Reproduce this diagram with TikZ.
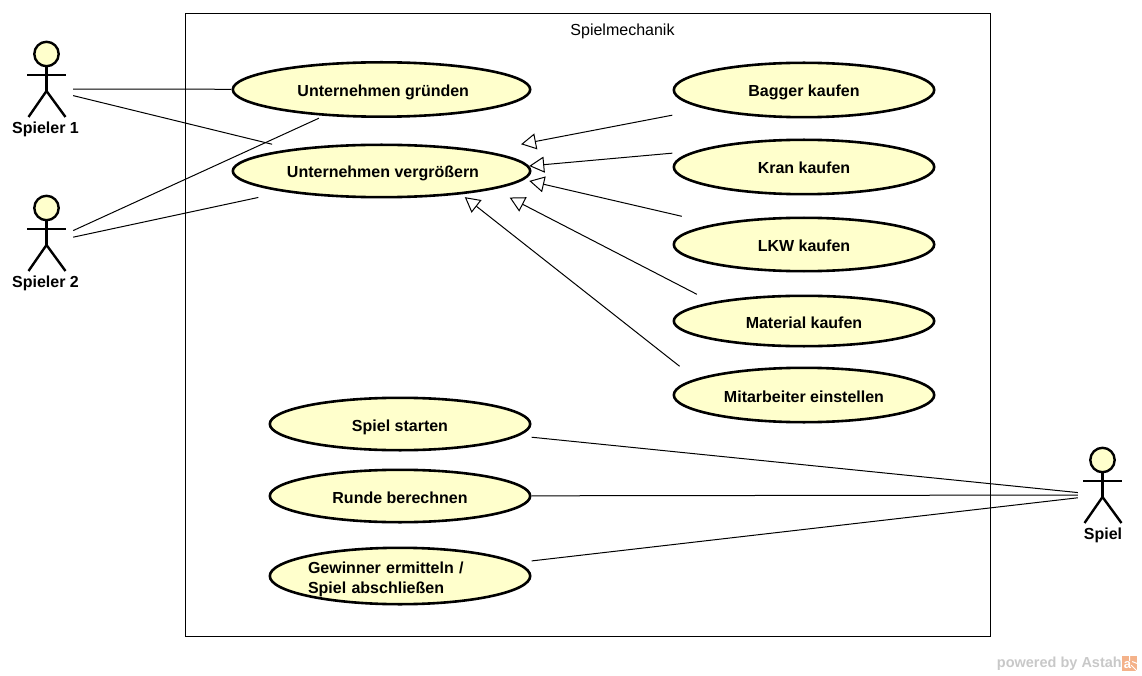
\documentclass[tikz,border=0pt]{standalone}
\usepackage{fontspec}
\setmainfont{Liberation Sans}
\usepackage{xcolor}
\usepackage{tikz}
\usetikzlibrary{arrows.meta,positioning,calc}

\definecolor{casefill}{RGB}{255,255,204}
\definecolor{markgray}{RGB}{200,200,200}
\definecolor{markorange}{RGB}{244,178,138}

\tikzset{
    usecase/.style 2 args={rectangle, inner sep=0pt, minimum width=#1, minimum height=#2,
        text height=14pt, text depth=0pt,
        font=\fontsize{16}{20}\selectfont\bfseries,
        path picture={\draw[fill=casefill,line width=2.6pt] (path picture bounding box.center)
            ellipse [x radius=#1/2-1.3pt, y radius=#2/2-1.3pt];}},
    actorbox/.style={rectangle, inner sep=0pt, minimum width=#1, minimum height=94pt},
    actorlabel/.style={inner sep=0pt, font=\fontsize{16}{20}\selectfont\bfseries},
    actorfig/.pic={
        \draw[line width=2.4pt,fill=casefill] (0,-35) circle (12.2);
        \draw[line width=2.4pt] (0,-23) -- (0,2) (-19.5,-14) -- (19.5,-14);
        \draw[line width=2.4pt] (-18,28) -- (0,2) -- (19,28);
    },
    assoc/.style={line width=1pt},
    generalize/.style={line width=1pt,shorten >=-2.5pt,-{Triangle[open,length=15pt,width=16pt,line width=1pt]}}
}

\begin{document}
\begin{tikzpicture}[x=1pt,y=-1pt]
    \useasboundingbox (0,0) rectangle (1142,676);

    % System boundary
    \node[draw,line width=1pt,rectangle,inner sep=0pt,minimum width=805pt,minimum height=623pt] (system) at (588,325) {};
    \node[font=\fontsize{16}{20}\selectfont] (systemtitle) at (622.5,31) {Spielmechanik};

    % Use cases left
    \node[usecase={300pt}{57pt}] (gruenden) at (381.5,89.5) {\hspace*{3.5pt}Unternehmen gründen};
    \node[usecase={300pt}{55pt}] (vergroessern) at (381.5,171) {\hspace*{3pt}Unternehmen vergrößern};
    \node[usecase={263pt}{55pt}] (starten) at (400,424) {Spiel starten};
    \node[usecase={263pt}{55pt}] (berechnen) at (400,496) {Runde berechnen};
    \node[usecase={263pt}{59pt},text width=184pt,align=left,text depth=20pt] (ermitteln) at (400,576) {Gewinner ermitteln /\\Spiel abschließen};

    % Use cases right
    \node[usecase={263pt}{57pt}] (bagger) at (804,90) {Bagger kaufen};
    \node[usecase={263pt}{57pt}] (kran) at (804,167) {Kran kaufen};
    \node[usecase={263pt}{56pt}] (lkw) at (804,244.5) {LKW kaufen};
    \node[usecase={263pt}{53pt}] (material) at (804,321) {Material kaufen};
    \node[usecase={263pt}{57pt}] (mitarbeiter) at (804,395) {Mitarbeiter einstellen};

    % Actors
    \node[actorbox=54pt] (spieler1) at (46,89) {};
    \node[actorbox=54pt] (spieler2) at (46,243) {};
    \node[actorbox=48pt] (spiel) at (1102,495) {};
    \pic at (46.5,89) {actorfig};
    \pic at (46.5,243) {actorfig};
    \pic at (1102.5,495) {actorfig};
    \node[actorlabel] (spieler1label) at (45.5,129) {Spieler 1};
    \node[actorlabel] (spieler2label) at (45.5,283) {Spieler 2};
    \node[actorlabel] (spiellabel) at (1103,535) {Spiel};

    % Associations
    \draw[assoc] (spieler1) -- (gruenden);
    \draw[assoc,shorten >=-4pt] (spieler1) -- (vergroessern);
    \draw[assoc] (spieler2) -- (gruenden);
    \draw[assoc,shorten >=-6pt] (spieler2) -- (vergroessern);
    \draw[assoc] (starten) -- (spiel);
    \draw[assoc] (berechnen) -- (spiel);
    \draw[assoc] (ermitteln) -- (spiel);

    % Generalizations
    \draw[generalize,shorten >=-5pt] (bagger) -- (vergroessern);
    \draw[generalize] (kran.174.3) -- (vergroessern.2.3);
    \draw[generalize] (lkw.167.6) -- (vergroessern.-4.2);
    \draw[generalize] (material.166.3) -- (vergroessern.-12.1);
    \draw[generalize] (mitarbeiter.167.7) -- (vergroessern.-18.6);

    % Watermark
    \node[inner sep=0pt,anchor=east,text=markgray,font=\fontsize{14.5}{16}\selectfont\bfseries] (watermark) at (1122,664) {powered by Astah};
    \node[rectangle,fill=markorange,inner sep=0pt,minimum size=15pt,text=white,font=\fontsize{13}{13}\selectfont\bfseries,text height=9pt,text depth=0pt] (watermarkicon) at (1129.5,663.5) {\hspace*{-4pt}a};
    \draw[white,line width=1pt] (watermarkicon.north) -- ++(0,5) (watermarkicon.east) -- ++(-5,-2) (watermarkicon.south east) -- ++(-6,-6);
\end{tikzpicture}
\end{document}
